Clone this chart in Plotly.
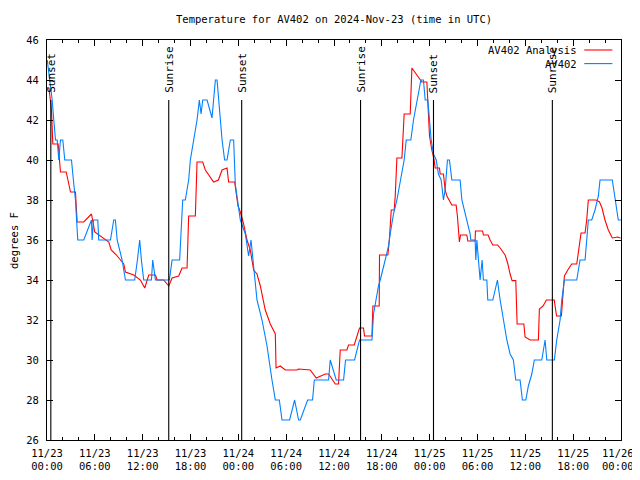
import datetime as dt
import plotly.graph_objects as go

START = dt.datetime(2024, 11, 23, 0, 0)

# AV402 observations (hours since 11/23 00:00 UTC, degrees F)
obs_hours = [0.03, 0.65, 0.85, 1.07, 1.28, 1.48, 1.69, 1.98, 2.23, 3.07, 3.36, 3.57, 3.86, 4.61,
             5.58, 5.66, 5.83, 6.37, 6.49, 7.96, 8.37, 8.58, 8.80, 9.42, 9.84, 11.00, 11.34, 11.63,
             11.84, 12.13, 13.10, 13.26, 13.60, 15.35, 15.69, 16.64, 17.02, 17.35, 17.77, 17.98,
             18.40, 18.82, 19.11, 19.33, 19.53, 20.08, 20.70, 20.91, 21.12, 21.33, 21.74, 21.96,
             22.28, 22.58, 23.00, 23.41, 23.62, 24.04, 24.25, 24.88, 25.29, 25.59, 26.00, 26.34,
             26.97, 27.60, 28.22, 28.64, 29.14, 29.48, 30.43, 31.06, 31.56, 31.77, 32.69, 33.31,
             33.53, 35.32, 35.53, 36.28, 37.20, 37.45, 38.58, 39.20, 40.76, 40.96, 41.58, 41.80,
             42.42, 42.84, 43.05, 43.46, 43.89, 44.30, 44.80, 45.06, 45.64, 45.97, 46.40, 46.90,
             47.22, 47.44, 47.77, 47.94, 48.19, 48.48, 48.82, 49.10, 49.44, 49.73, 49.94, 50.23,
             50.48, 50.78, 51.82, 52.04, 52.45, 52.66, 53.08, 53.16, 53.70, 53.79, 53.92, 54.12,
             54.33, 54.58, 54.74, 55.17, 55.29, 55.92, 56.50, 56.84, 57.25, 57.68, 58.09, 58.50,
             58.80, 59.34, 59.63, 60.06, 60.38, 60.81, 61.13, 62.06, 62.48, 62.69, 63.64, 63.94,
             64.36, 64.57, 64.90, 66.45, 66.86, 67.49, 67.70, 67.90, 68.33, 68.74, 69.16, 69.37,
             70.91, 71.25, 71.66, 72.00]
obs_temps = [45.0, 43.0, 42.0, 41.0, 41.0, 40.0, 41.0, 41.0, 40.0, 40.0, 38.8, 38.0, 36.0, 36.0,
             37.0, 36.0, 37.0, 37.0, 36.0, 36.0, 37.0, 37.0, 36.0, 35.0, 34.0, 34.0, 35.0, 36.0,
             35.0, 34.0, 34.0, 35.0, 34.0, 34.0, 35.0, 35.0, 38.0, 38.0, 39.0, 40.0,
             41.0, 42.0, 43.0, 42.3, 43.0, 43.0, 42.1, 43.0, 44.0, 44.0, 42.0, 41.0,
             40.0, 40.0, 41.0, 41.0, 38.8, 37.5, 37.0, 36.3, 35.2, 36.0, 34.5, 33.0,
             32.0, 30.7, 29.0, 28.0, 28.0, 27.0, 27.0, 28.0, 27.0, 27.0, 28.0, 28.0,
             29.0, 29.0, 30.0, 29.0, 29.0, 30.0, 30.0, 31.0, 31.0, 32.3, 33.7, 34.0,
             35.0, 35.7, 36.3, 37.3, 38.0, 39.0, 40.0, 41.0, 41.0, 42.0, 43.0, 44.0,
             44.0, 43.0, 43.0, 42.0, 41.0, 40.3, 40.0, 39.3, 39.0, 38.0, 38.5, 40.0,
             40.0, 39.0, 39.0, 38.0, 37.3, 37.0, 36.3, 36.0, 36.0, 35.0, 36.0, 35.0,
             34.0, 35.0, 34.0, 34.0, 33.0, 33.0, 34.0, 33.0, 32.0, 31.0, 30.3, 30.0,
             29.0, 29.0, 28.0, 28.0, 28.7, 29.3, 30.0, 30.0, 31.0, 30.0, 30.0, 31.0,
             32.0, 33.0, 34.0, 34.0, 35.0, 35.0, 36.0, 37.0, 37.0, 37.5, 38.2, 39.0,
             39.0, 38.0, 37.0, 37.0]

# AV402 Analysis
ana_hours = [0.06, 0.25, 0.56, 0.73, 1.40, 1.69, 2.41, 2.66, 2.95, 3.57, 3.70, 3.78, 4.61, 5.58,
             5.99, 6.71, 7.75, 8.05, 8.71, 9.63, 9.84, 10.88, 11.72, 12.26, 12.76, 13.60, 13.81,
             14.64, 15.27, 15.69, 16.52, 16.94, 17.57, 17.77, 18.61, 18.82, 19.53, 19.86, 20.90,
             21.50, 21.96, 22.58, 22.78, 23.54, 23.71, 23.96, 24.25, 24.66, 25.09, 25.50, 25.92,
             26.34, 26.76, 27.38, 28.01, 28.64, 28.73, 29.26, 29.89, 31.36, 31.56, 33.02, 33.78,
             34.28, 34.90, 35.32, 36.16, 36.57, 36.78, 37.62, 37.82, 38.54, 38.88, 39.20, 39.70,
             39.83, 40.76, 40.88, 41.67, 41.71, 42.76, 42.96, 43.18, 43.55, 43.68, 43.89, 44.52,
             44.64, 44.80, 45.56, 45.68, 45.77, 47.02, 47.65, 47.72, 47.85, 47.98, 48.27, 48.56,
             48.69, 49.23, 49.32, 49.73, 49.94, 50.16, 50.78, 51.32, 51.48, 51.73, 51.88, 52.66,
             52.79, 53.70, 53.74, 54.64, 54.74, 55.33, 55.58, 55.92, 56.52, 56.84, 57.46, 57.78,
             58.09, 58.34, 58.80, 58.87, 58.97, 59.81, 59.97, 60.60, 61.64, 61.76, 62.23, 62.64,
             63.63, 63.73, 63.92, 64.52, 64.67, 64.90, 65.40, 65.82, 66.45, 66.77, 66.99, 67.49,
             67.70, 67.90, 68.87, 69.30, 69.62, 69.99, 70.41, 70.91, 71.58, 71.94]
ana_temps = [43.6, 43.6, 42.5, 40.8, 40.8, 39.4, 39.4, 38.9, 38.4, 38.4, 37.6, 36.9, 36.9, 37.3,
             36.4, 36.2, 35.9, 35.5, 35.25, 34.8, 34.4, 34.25, 34.0, 33.6, 34.25, 34.25, 34.0,
             34.0, 33.7, 34.1, 34.2, 34.6, 34.6, 37.2, 37.2, 39.9, 39.9, 39.5, 38.9,
             39.0, 39.5, 39.6, 38.9, 38.9, 38.3, 37.7, 37.4, 36.8, 36.0, 35.5, 34.5,
             34.3, 33.7, 32.5, 31.8, 31.3, 29.6, 29.7, 29.5, 29.5, 29.55, 29.5, 29.1,
             29.2, 29.3, 29.3, 28.8, 28.8, 30.5, 30.5, 30.75, 30.75, 31.25, 31.6, 31.6,
             31.2, 31.2, 32.7, 32.7, 35.25, 35.25, 36.1, 37.5, 37.5, 38.2, 40.1, 40.1,
             41.2, 42.3, 42.3, 43.5, 44.6, 43.9, 43.9, 43.3, 42.5, 41.2, 40.5, 40.0,
             39.6, 39.6, 39.3, 39.3, 38.5, 38.2, 37.75, 37.75, 37.2, 35.9, 36.25, 36.25,
             35.95, 35.95, 36.45, 36.45, 36.25, 36.25, 36.0, 35.75, 35.75, 35.6, 35.25, 34.85,
             34.3, 33.97, 33.97, 32.3, 31.8, 31.8, 31.15, 31.0, 31.0, 32.55, 32.7, 33.0,
             33.0, 32.7, 32.2, 32.2, 33.0, 34.2, 34.55, 34.8, 34.8, 35.7, 36.35, 36.35,
             37.0, 38.0, 38.0, 37.9, 37.6, 37.0, 36.5, 36.1, 36.15, 36.1]

# Sun events (hours since start)
sun_hours = [0.48, 15.27, 24.42, 39.33, 48.48, 63.39]
sun_labels = ["Sunset", "Sunrise", "Sunset", "Sunrise", "Sunset", "Sunrise"]
SUN_LINE_TOP = 43.0
SUN_TEXT_Y = 43.25

tick_hours = [0, 6, 12, 18, 24, 30, 36, 42, 48, 54, 60, 66, 72]
tick_labels = ["11/23<br>00:00", "11/23<br>06:00", "11/23<br>12:00", "11/23<br>18:00",
               "11/24<br>00:00", "11/24<br>06:00", "11/24<br>12:00", "11/24<br>18:00",
               "11/25<br>00:00", "11/25<br>06:00", "11/25<br>12:00", "11/25<br>18:00",
               "11/26\u00a0<br>00:00\u00a0"]

series_names = ["AV402 Analysis", "AV402"]
series_colors = ["#ff0000", "#0080ff"]

FONT = "DejaVu Sans Mono"
FS = 10.5


def to_time(hours):
    return [START + dt.timedelta(hours=h) for h in hours]


fig = go.Figure()
fig.add_trace(go.Scatter(x=to_time(ana_hours), y=ana_temps, mode="lines",
                         line=dict(color=series_colors[0], width=1.1),
                         name=series_names[0], showlegend=False))
fig.add_trace(go.Scatter(x=to_time(obs_hours), y=obs_temps, mode="lines",
                         line=dict(color=series_colors[1], width=1.1),
                         name=series_names[1], showlegend=False))

for t, lab in zip(to_time(sun_hours), sun_labels):
    fig.add_shape(type="line", x0=t, x1=t, y0=26, y1=SUN_LINE_TOP, xref="x", yref="y",
                  line=dict(color="black", width=1.1))
    fig.add_annotation(x=t, y=SUN_TEXT_Y, xref="x", yref="y", text=lab, textangle=-90,
                       showarrow=False, xanchor="center", yanchor="bottom",
                       font=dict(family=FONT, size=FS + 0.5, color="black"))

# legend (gnuplot style: text then line sample)
for i, (nm, col) in enumerate(zip(series_names, series_colors)):
    ypos = 0.975 - i * 0.034
    fig.add_annotation(x=0.927, y=ypos, xref="paper", yref="paper", text=nm, showarrow=False,
                       xanchor="right", yanchor="middle",
                       font=dict(family=FONT, size=FS, color="black"))
    fig.add_shape(type="line", x0=0.936, x1=0.985, y0=ypos, y1=ypos, xref="paper",
                  yref="paper", line=dict(color=col, width=1.1))

fig.add_annotation(x=0.5, y=1.0525, xref="paper", yref="paper",
                   text="Temperature for AV402 on 2024-Nov-23 (time in UTC)", showarrow=False,
                   xanchor="center", yanchor="middle", font=dict(family=FONT, size=FS, color="black"))
fig.add_annotation(x=-0.0575, y=0.5, xref="paper", yref="paper", text="degrees F",
                   textangle=-90, showarrow=False, xanchor="center", yanchor="middle",
                   font=dict(family=FONT, size=FS, color="black"))

# the page puts the figure 8px in from the top-left corner, so the figure is 8px smaller
fig.update_layout(
    width=632, height=472,
    margin=dict(l=39, r=19, t=32, b=40, autoexpand=False),
    plot_bgcolor="white", paper_bgcolor="white",
    font=dict(family=FONT, size=FS, color="black"),
    xaxis=dict(
        range=[START, START + dt.timedelta(hours=72)],
        tickmode="array", tickvals=to_time(tick_hours), ticktext=tick_labels,
        ticks="inside", ticklen=6, tickcolor="black", tickwidth=1,
        minor=dict(ticks="inside", ticklen=3, tickcolor="black", dtick=2 * 3600 * 1000,
                   tick0=START, showgrid=False),
        showline=True, linecolor="black", linewidth=1, mirror="allticks",
        showgrid=False, zeroline=False, automargin=False, ticklabelstandoff=3,
        ticklabeloverflow="allow",
        tickfont=dict(family=FONT, size=FS, color="black"),
    ),
    yaxis=dict(
        range=[26, 46], tickmode="linear", tick0=26, dtick=2,
        ticks="inside", ticklen=6, tickcolor="black", tickwidth=1,
        showline=True, linecolor="black", linewidth=1, mirror="allticks",
        showgrid=False, zeroline=False, automargin=False, ticklabelstandoff=5,
        ticklabeloverflow="allow",
        tickfont=dict(family=FONT, size=FS, color="black"),
    ),
)

fig.write_html("out.html")
